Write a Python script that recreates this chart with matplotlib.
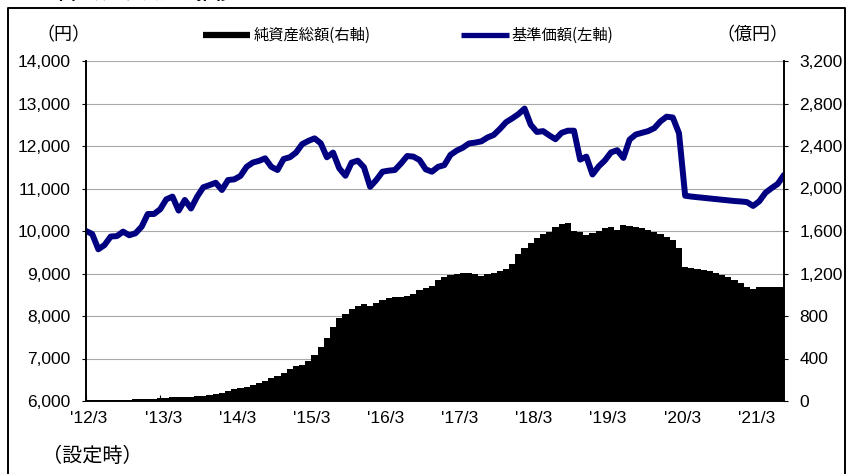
import matplotlib
matplotlib.use('agg')
import matplotlib.pyplot as plt
from matplotlib.lines import Line2D
import numpy as np

# monthly data from 2012/3 (setup) to 2021/8
nav = [10000, 9930, 9570, 9670, 9870, 9880, 9985, 9900, 9945, 10100,
       10400, 10400, 10510, 10745, 10810, 10480, 10730, 10530, 10810, 11030,
       11080, 11135, 10965, 11200, 11215, 11295, 11510, 11610, 11650, 11710,
       11510, 11435, 11695, 11735, 11845, 12045, 12120, 12180, 12065, 11735,
       11845, 11475, 11300, 11610, 11655, 11500, 11040, 11200, 11395, 11420,
       11435, 11590, 11765, 11750, 11670, 11450, 11395, 11510, 11550, 11790,
       11890, 11960, 12060, 12080, 12110, 12200, 12260, 12400, 12560, 12650,
       12750, 12880, 12500, 12330, 12350, 12250, 12160, 12310, 12360, 12360,
       11680, 11750, 11330, 11520, 11660, 11850, 11900, 11720, 12150, 12270,
       12310, 12350, 12420, 12580, 12690, 12670, 12300, 10830, 10810, 10795,
       10780, 10765, 10750, 10735, 10720, 10705, 10695, 10680, 10590, 10700,
       10900, 11010, 11110, 11320]

assets = [10, 10, 10, 10, 10, 12, 12, 14, 15, 16,
          18, 20, 25, 30, 35, 38, 40, 42, 46, 50,
          55, 65, 80, 96, 110, 120, 129, 148, 170, 190,
          215, 235, 266, 298, 325, 339, 375, 430, 505, 596,
          699, 778, 819, 866, 894, 913, 894, 925, 955, 966,
          976, 981, 991, 1007, 1044, 1060, 1082, 1139, 1170, 1186,
          1200, 1207, 1207, 1195, 1176, 1195, 1207, 1223, 1245, 1290,
          1385, 1437, 1490, 1531, 1571, 1593, 1634, 1665, 1678, 1603,
          1593, 1562, 1584, 1603, 1625, 1634, 1609, 1656, 1650, 1640,
          1625, 1609, 1593, 1569, 1540, 1515, 1437, 1264, 1249, 1242,
          1233, 1223, 1207, 1186, 1164, 1139, 1107, 1070, 1051, 1070,
          1070, 1070, 1070, 1070]

year_labels = ["'12/3", "'13/3", "'14/3", "'15/3", "'16/3",
               "'17/3", "'18/3", "'19/3", "'20/3", "'21/3"]

jp = ['Noto Sans CJK JP', 'DejaVu Sans']
num_font = ['Liberation Sans', 'DejaVu Sans']

x = np.arange(len(nav))

fig = plt.figure(figsize=(8.5, 4.74), dpi=100)
ax2 = fig.add_axes([86 / 850, 1 - 401 / 474, (784 - 86) / 850, 340 / 474])
ax = ax2.twinx()

# net assets bars (right axis)
ax2.bar(x, assets, width=1.0, color='black', linewidth=0)
ax2.set_ylim(0, 3200)
ax2.set_yticks(np.arange(0, 3201, 400))
ax2.grid(axis='y', color='#a8a8a8', linewidth=0.8)
ax2.set_axisbelow(True)

# NAV line (left axis), drawn above the bars
ax.plot(x, nav, color='#000080', linewidth=4.3, solid_joinstyle='round',
        solid_capstyle='round')
ax.set_ylim(6000, 14000)
ax.set_yticks(np.arange(6000, 14001, 1000))
ax.set_zorder(ax2.get_zorder() + 1)
ax.patch.set_visible(False)

# the twin puts its scale on the right; swap so the NAV scale is on the left
ax.yaxis.tick_left()
ax2.yaxis.tick_right()

ax2.set_xlim(0, len(nav) - 1)
ax2.set_xticks(np.arange(0, len(nav), 12))
ax2.set_xticklabels([])
ax2.set_xticks(np.arange(0, len(nav), 12) + 0.5, minor=True)
ax2.set_xticklabels(year_labels, minor=True, fontfamily=num_font, fontsize=12.5)
ax2.tick_params(axis='x', which='major', direction='in', length=4, width=0.8)
ax2.tick_params(axis='x', which='minor', length=0, pad=7)

ax.set_yticklabels([f'{v:,}' for v in range(6000, 14001, 1000)],
                   fontfamily=num_font, fontsize=12.5)
ax2.set_yticklabels([f'{v:,}' for v in range(0, 3201, 400)],
                    fontfamily=num_font, fontsize=12.5)
ax.tick_params(axis='y', direction='out', length=3, pad=8)
ax2.tick_params(axis='y', direction='out', length=3, pad=8)

for a in (ax, ax2):
    a.spines['top'].set_visible(False)
    for s in ('left', 'right', 'bottom'):
        a.spines[s].set_linewidth(1.2)
        a.spines[s].set_color('black')

# unit labels and legend
fig.text(63 / 850, 1 - 35 / 474, '（円）', fontfamily=jp, fontsize=13,
         ha='center', va='center')
fig.text(752 / 850, 1 - 35 / 474, '（億円）', fontfamily=jp, fontsize=13,
         ha='center', va='center')
fig.add_artist(Line2D([203 / 850, 250 / 850], [1 - 34.5 / 474] * 2,
                      color='black', linewidth=4.5, solid_capstyle='butt'))
fig.text(254 / 850, 1 - 35 / 474, '純資産総額(右軸)', fontfamily=jp,
         fontsize=11, va='center')
fig.add_artist(Line2D([461 / 850, 509 / 850], [1 - 34.5 / 474] * 2,
                      color='#000080', linewidth=3.8, solid_capstyle='butt'))
fig.text(511 / 850, 1 - 35 / 474, '基準価額(左軸)', fontfamily=jp,
         fontsize=11, va='center')
fig.text(92 / 850, 1 - 456 / 474, '（設定時）', fontfamily=jp, fontsize=14.5,
         ha='center', va='center')

# cut-off heading and outer frame
fig.text(16 / 850, 1 - 3 / 474, '■基準価額・純資産の推移', fontfamily=jp,
         fontsize=13, fontweight='bold', va='bottom')
fig.add_artist(Line2D([8 / 850, 8 / 850, 845 / 850, 845 / 850],
                      [0, 1 - 8 / 474, 1 - 8 / 474, 0],
                      color='black', linewidth=1.4))

fig.savefig('out.png', dpi=100)
plt.close(fig)
